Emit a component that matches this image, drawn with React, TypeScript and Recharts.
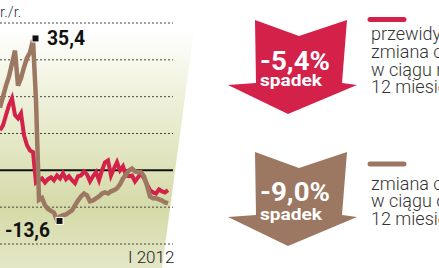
import { LineChart, Line, XAxis, YAxis, ReferenceLine, ReferenceDot } from "recharts";

// monthly, VI 2008 .. II 2013 (index 43 = I 2012)
const redValues = [
  10.9, 12.2, 15, 17.7, 19.6, 15, 14.1, 15.5, 9.5, 6.8, 5.4, 4.9, -3.3, -2.7, -2.2, -3.3, -2.4, -1.9, -2.7,
  -1.4, -2.2, -0.8, -2.4, -1.6, -2.7, -3.5, -1.6, -1.4, -0.3, -1.1, -3, -1.6, -0.5, -2.7, 0, 2.2, 2.7, -1.4,
  0.5, 2.2, 0, 1.1, -1.4, -1.6, -1.4, -3, -1.9, -0.8, -2.2, -3.8, -5.4, -6, -6.3, -5.2, -5.7, -6, -5.4,
];
const brownValues = [
  17, 20, 23, 25.5, 29, 32.5, 23, 25, 28, 30.5, 32, 35.4, 19, -8, -7.5, -9.5, -10.5, -11, -11.5, -13.6,
  -12.5, -12.2, -12, -11.4, -10.9, -9.5, -8.2, -7.1, -6.3, -6.8, -8.4, -8.2, -7.6, -7.1, -6.3, -6, -6.3,
  -5.7, -5.4, -4.9, -3.8, -2.2, -1.1, 0, 0.5, -0.3, -0.5, -0.5, -1.6, -4.1, -7.1, -7.6, -7.6, -7.9, -8.2,
  -8.7, -9.0,
];
const gridValues = [40, 30, 20, 10, -10, -20];
const tickIndex = 43;
const tickLabel = "I 2012";
const predictedChange = "-5,4%";
const pastChange = "-9,0%";

const RED = "#d3214a";
const BROWN = "#9c7762";

const data = redValues.map((v, i) => ({ i, red: v, brown: brownValues[i] }));

const maxVal = Math.max(...brownValues);
const maxIdx = brownValues.indexOf(maxVal);
const minVal = Math.min(...brownValues);
const minIdx = brownValues.indexOf(minVal);
const fmt = (v: number) => v.toFixed(1).replace(".", ",");

const numFont = "Roboto, 'DejaVu Sans', sans-serif";

function Arrow({ top, color, value, b1, b2 }: { top: number; color: string; value: string; b1: number; b2: number }) {
  const pts = [
    [255, 0], [299, 16], [347, 0], [342, 63], [357, 65], [288, 94], [228, 65], [256, 63],
  ]
    .map(([x, y]) => `${x},${y + top}`)
    .join(" ");
  return (
    <g>
      <polygon points={pts} fill={color} />
      <text x={260} y={b1} fill="#fff" fontFamily={numFont} fontWeight={700} fontSize={25}
        textLength={70} lengthAdjust="spacingAndGlyphs">{value}</text>
      <text x={260} y={b2} fill="#fff" fontFamily={numFont} fontWeight={700} fontSize={16}
        textLength={62} lengthAdjust="spacingAndGlyphs">spadek</text>
    </g>
  );
}

export default function App() {
  return (
    <div style={{ position: "absolute", left: 0, top: 0, width: 439, height: 268, background: "#fff", overflow: "hidden" }}>
      <svg width={439} height={268} style={{ position: "absolute", left: 0, top: 0 }}>
        <defs>
          <linearGradient id="bg" x1="0" y1="0" x2="0" y2="1">
            <stop offset="0" stopColor="#ffffff" />
            <stop offset="0.25" stopColor="#f0f2dd" />
            <stop offset="0.75" stopColor="#d5daa8" />
            <stop offset="1" stopColor="#e4e7c6" />
          </linearGradient>
        </defs>
        <polygon points="0,30 194,30 162,268 0,268" fill="url(#bg)" />
      </svg>
      <div style={{ position: "absolute", left: 0, top: 0 }}>
        <LineChart width={200} height={268} data={data} margin={{ top: 23, right: 27, bottom: 0, left: 0 }}>
          <XAxis
            dataKey="i"
            type="number"
            domain={[0, 173 / 3]}
            ticks={[tickIndex]}
            axisLine={false}
            tickLine={false}
            tickSize={0}
            tickMargin={0}
            height={24}
            interval={0}
            tick={({ x, y }: any) => (
              <text x={x - 1} y={y + 19} fontFamily="Roboto, sans-serif" fontWeight={300} fontSize={17} fill="#222">
                {tickLabel}
              </text>
            )}
          />
          <YAxis hide domain={[-20, 40]} />
          {gridValues.map((v) => (
            <ReferenceLine key={v} y={v} stroke="#444" strokeDasharray="2 2" strokeWidth={1} />
          ))}
          <ReferenceLine y={0} stroke="#111" strokeWidth={2} />
          <Line type="linear" dataKey="red" stroke={RED} strokeWidth={4} dot={false} isAnimationActive={false} />
          <Line type="linear" dataKey="brown" stroke={BROWN} strokeWidth={4.5} dot={false} isAnimationActive={false} />
          <ReferenceDot
            x={maxIdx}
            y={maxVal}
            shape={(p: any) => (
              <g>
                <rect x={p.cx - 1} y={p.cy - 5} width={7} height={7} fill="#111" stroke="#fff" strokeWidth={1} />
                <text x={p.cx + 14} y={p.cy + 5} fontFamily={numFont} fontWeight={700} fontSize={21} fill="#111"
                  textLength={38} lengthAdjust="spacingAndGlyphs">{fmt(maxVal)}</text>
              </g>
            )}
          />
          <ReferenceDot
            x={minIdx}
            y={minVal}
            shape={(p: any) => (
              <g>
                <rect x={p.cx - 1} y={p.cy - 3} width={7} height={7} fill="#111" stroke="#fff" strokeWidth={1} />
                <text x={p.cx - 52} y={p.cy + 17} fontFamily={numFont} fontWeight={700} fontSize={21} fill="#111"
                  textLength={45} lengthAdjust="spacingAndGlyphs">{fmt(minVal)}</text>
              </g>
            )}
          />
        </LineChart>
      </div>
      <svg width={439} height={268} style={{ position: "absolute", left: 0, top: 0 }}>
        <text x={0} y={17} fontFamily="Roboto, sans-serif" fontWeight={300} fontSize={15} fill="#333">r./r.</text>
        <Arrow top={20} color={RED} value={predictedChange} b1={70} b2={86} />
        <Arrow top={152} color={BROWN} value={pastChange} b1={201} b2={220} />
        <line x1={370} y1={19.5} x2={404} y2={19.5} stroke={RED} strokeWidth={5} strokeLinecap="round" />
        <g fontFamily="Roboto, sans-serif" fontWeight={300} fontSize={18} fill="#333">
          <text x={371} y={40}>przewidywana</text>
          <text x={371} y={58}>zmiana cen</text>
          <text x={371} y={76}>w ciągu najbliższych</text>
          <text x={371} y={93}>12 miesięcy</text>
        </g>
        <line x1={370} y1={164} x2={404} y2={164} stroke={BROWN} strokeWidth={5} strokeLinecap="round" />
        <g fontFamily="Roboto, sans-serif" fontWeight={300} fontSize={18} fill="#333">
          <text x={371} y={190}>zmiana cen</text>
          <text x={371} y={207}>w ciągu ostatnich</text>
          <text x={371} y={225}>12 miesięcy</text>
        </g>
      </svg>
    </div>
  );
}
